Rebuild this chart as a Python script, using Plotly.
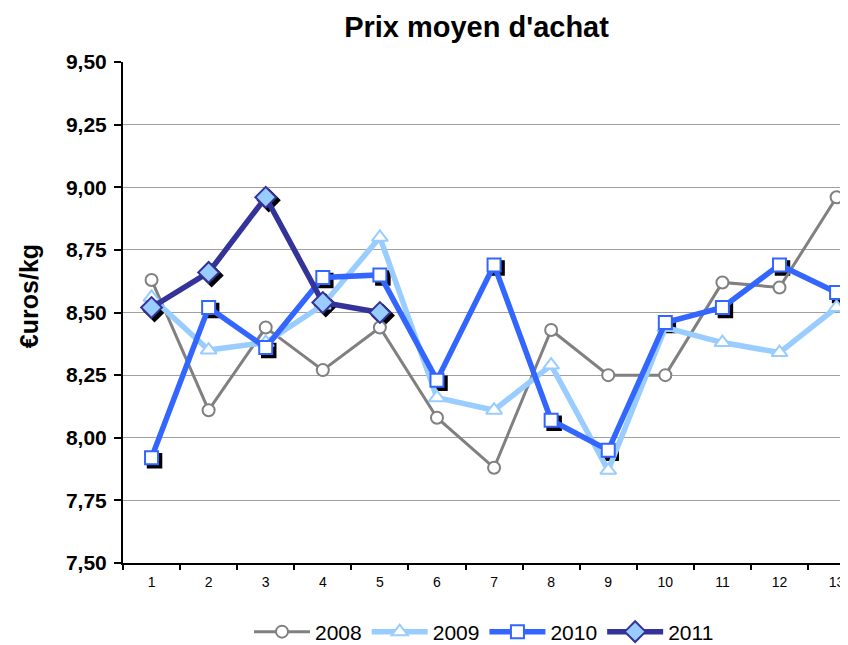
import plotly.graph_objects as go

months = [str(m) for m in range(1, 14)]
y2008 = [8.63, 8.11, 8.44, 8.27, 8.44, 8.08, 7.88, 8.43, 8.25, 8.25, 8.62, 8.60, 8.96]
y2009 = [8.56, 8.35, 8.38, 8.53, 8.80, 8.16, 8.11, 8.29, 7.87, 8.44, 8.38, 8.34, 8.52]
y2010 = [7.92, 8.52, 8.36, 8.64, 8.65, 8.23, 8.69, 8.07, 7.95, 8.46, 8.52, 8.69, 8.58]
y2011 = [8.52, 8.66, 8.96, 8.54, 8.50]
y_ticks = [7.50, 7.75, 8.00, 8.25, 8.50, 8.75, 9.00, 9.25, 9.50]

FONT = "Liberation Sans, Arial, sans-serif"
Y_RANGE = [7.5, 9.5]
X_RANGE = [-0.5, 12.34]
ML, MT, MB, MR = 115, 54, 90, 0
PLOT_W, PLOT_H = 848 - ML - MR, 645 - MT - MB
SH = 3  # shadow offset in px
dx = SH * (X_RANGE[1] - X_RANGE[0]) / PLOT_W
dy = SH * (Y_RANGE[1] - Y_RANGE[0]) / PLOT_H

series = [
    ("2008", y2008, "#808080", 3, "circle", 12, "white", "#808080", False),
    ("2009", y2009, "#99CCFF", 5.5, "triangle-up", 14, "white", "#99CCFF", False),
    ("2010", y2010, "#3366FF", 5.5, "square", 13, "white", "#3366FF", True),
    ("2011", y2011, "#333399", 5.5, "diamond", 16, "#99CCFF", "#333399", True),
]

fig = go.Figure()
for name, ys, col, lw, sym, sz, fill, mline, shadow in series:
    if shadow:
        fig.add_trace(go.Scatter(
            x=months[:len(ys)], y=ys, mode="markers", showlegend=False,
            hoverinfo="skip", xaxis="x", yaxis="y",
            marker=dict(symbol=sym, size=sz + 1, color="black",
                        line=dict(width=1.5, color="black"))))
for name, ys, col, lw, sym, sz, fill, mline, shadow in series:
    fig.add_trace(go.Scatter(
        x=months[:len(ys)], y=ys, name=name, mode="lines+markers",
        xaxis="x2", yaxis="y2",
        line=dict(color=col, width=lw),
        marker=dict(symbol=sym, size=sz, color=fill,
                    line=dict(width=2, color=mline))))

fig.update_layout(
    width=848, height=645,
    paper_bgcolor="white", plot_bgcolor="white",
    margin=dict(l=ML, r=MR, t=MT, b=MB, autoexpand=False),
    separators=", ",
    font=dict(family=FONT, color="black"),
    title=dict(text="<b>Prix moyen d'achat</b>", xref="container", x=0.5525,
               xanchor="center", yref="container", y=0.9705, yanchor="middle",
               font=dict(size=29, family=FONT)),
    xaxis=dict(type="category", range=[X_RANGE[0] - dx, X_RANGE[1] - dx],
               visible=False, categoryorder="array", categoryarray=months),
    yaxis=dict(range=[Y_RANGE[0] + dy, Y_RANGE[1] + dy], visible=False),
    xaxis2=dict(type="category", overlaying="x", anchor="y2",
                categoryorder="array", categoryarray=months,
                range=X_RANGE, tickson="boundaries",
                showline=True, linecolor="black", linewidth=2,
                ticks="outside", ticklen=5, tickcolor="black", tickwidth=1.5,
                ticklabelstandoff=5,
                showgrid=False, tickfont=dict(size=14, family=FONT)),
    yaxis2=dict(overlaying="y", anchor="x2", side="left", range=Y_RANGE,
                tickvals=y_ticks, tickformat=".2f",
                showline=True, linecolor="black", linewidth=2,
                ticks="outside", ticklen=7, tickcolor="black", tickwidth=1.5,
                ticklabelstandoff=3,
                showgrid=True, gridcolor="#A0A0A0", gridwidth=1,
                tickfont=dict(size=21, family=FONT, weight="bold")),
    legend=dict(orientation="h", x=0.4925, xanchor="center", y=-0.1377,
                yanchor="middle", font=dict(size=21, family=FONT),
                itemwidth=56, tracegroupgap=0),
    annotations=[dict(text="<b>€uros/kg</b>", xref="paper", yref="paper",
                      x=-0.128, y=0.533, xanchor="center", yanchor="middle",
                      textangle=-90, showarrow=False,
                      font=dict(size=25, family=FONT))],
)

fig.write_html("out.html")
